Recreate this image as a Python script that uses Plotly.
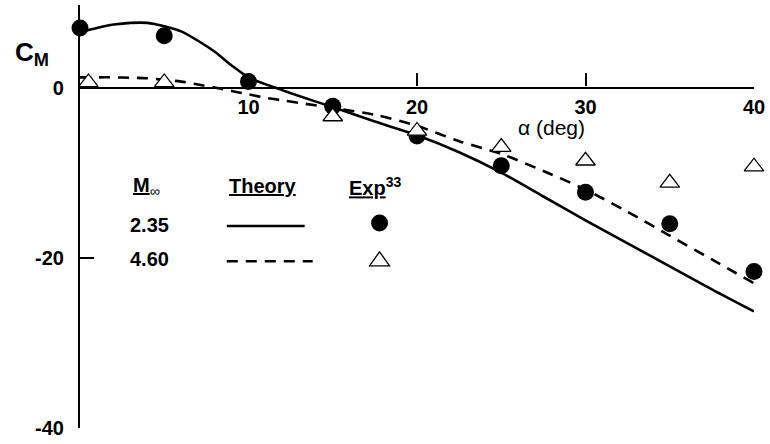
import plotly.graph_objects as go

# ---------------- data ----------------
alpha_exp_235 = [0, 5, 10, 15, 20, 25, 30, 35, 40]
cm_exp_235 = [7.0, 6.1, 0.7, -2.2, -5.7, -9.2, -12.3, -16.0, -21.6]

alpha_exp_460 = [0.5, 5, 15, 20, 25, 30, 35, 40]
cm_exp_460 = [0.6, 0.6, -3.4, -5.1, -7.0, -8.6, -11.2, -9.3]

alpha_th_235 = [0, 1, 2, 3, 4, 5, 6, 7, 8, 9, 10, 11, 12, 13, 15, 17.5, 20,
                22.5, 25, 27.5, 30, 32.5, 35, 37.5, 40]
cm_th_235 = [6.5, 7.0, 7.4, 7.6, 7.6, 7.2, 6.6, 5.5, 4.2, 2.6, 1.2, 0.4, -0.3,
             -1.0, -2.3, -4.0, -5.6, -7.6, -10.0, -12.8, -15.6, -18.3, -21.0,
             -23.7, -26.3]

alpha_th_460 = [0, 1, 2, 3, 4, 5, 6, 7, 8, 9, 10, 11, 12, 13, 15, 17.5, 20,
                22.5, 25, 27.5, 30, 32.5, 35, 37.5, 40]
cm_th_460 = [1.2, 1.2, 1.2, 1.15, 1.1, 0.9, 0.7, 0.35, 0.0, -0.4, -0.8, -1.2,
             -1.5, -1.8, -2.4, -3.2, -4.5, -6.3, -7.8, -9.8, -12.0, -14.6,
             -17.4, -20.2, -23.0]

x_ticks = [10, 20, 30, 40]
y_ticks = [-40, -20, 0]
y_tick_text = ["-40", "-20", "0"]
x_range = [0, 40]
y_range = [-40, 9.7]

mach_labels = ["2.35", "4.60"]

FONT = "Liberation Sans, Arial, Helvetica, sans-serif"

fig = go.Figure()

fig.add_trace(go.Scatter(x=alpha_th_235, y=cm_th_235, mode="lines",
                         line=dict(color="black", width=2.6, shape="spline", smoothing=0.8),
                         cliponaxis=False, showlegend=False))
fig.add_trace(go.Scatter(x=alpha_th_460, y=cm_th_460, mode="lines",
                         line=dict(color="black", width=2.6, dash="11px,8px",
                                   shape="spline", smoothing=0.8),
                         cliponaxis=False, showlegend=False))
fig.add_trace(go.Scatter(x=alpha_exp_235, y=cm_exp_235, mode="markers",
                         marker=dict(symbol="circle", size=17, color="black"),
                         cliponaxis=False, showlegend=False))
fig.add_trace(go.Scatter(x=alpha_exp_460, y=cm_exp_460, mode="markers",
                         marker=dict(symbol="triangle-up", size=17, color="white",
                                     line=dict(color="black", width=1.3)),
                         cliponaxis=False, showlegend=False))

xpos = (0 - y_range[0]) / (y_range[1] - y_range[0])

fig.update_layout(
    width=770, height=444,
    margin=dict(l=80, r=15, t=5, b=14),
    plot_bgcolor="white", paper_bgcolor="white",
    font=dict(family=FONT, size=20, color="black"),
    xaxis=dict(range=x_range, anchor="free", position=xpos,
               showline=True, linecolor="black", linewidth=2.2,
               ticks="inside", ticklen=13, tickwidth=2.2, tickcolor="black",
               tickvals=x_ticks, showgrid=False, zeroline=False,
               ticklabelstandoff=1,
               tickfont=dict(family=FONT, size=20, weight="bold")),
    yaxis=dict(range=y_range, showline=True, linecolor="black", linewidth=2.2,
               ticks="inside", ticklen=14, tickwidth=2.2, tickcolor="black",
               tickvals=y_ticks, ticktext=y_tick_text, showgrid=False,
               zeroline=False, ticklabelstandoff=10,
               tickfont=dict(family=FONT, size=20, weight="bold")),
)

# axis titles
fig.add_annotation(x=-0.1, y=0.885, xref="paper", yref="paper", xanchor="left",
                   yanchor="middle", showarrow=False,
                   text="<b>C<sub>M</sub></b>", font=dict(size=26))
fig.add_annotation(x=0.700, y=0.7106, xref="paper", yref="paper", xanchor="center",
                   yanchor="middle", showarrow=False,
                   text="α (deg)", font=dict(size=21))

# legend table
def px2paper(px, py):
    return (px - 80) / 675, (430 - py) / 425

hdr_y = px2paper(0, 187)[1]
for cx, txt in [(147, "<b><u>M</u></b><sub>∞</sub>"), (263, "<b><u>Theory</u></b>"),
                (375, "<b><u>Exp</u><sup>33</sup></b>")]:
    fig.add_annotation(x=px2paper(cx, 0)[0], y=hdr_y, xref="paper", yref="paper",
                       xanchor="center", yanchor="middle", showarrow=False,
                       text=txt, font=dict(size=20))

row_y = [226.5, 260.5]
for lab, ry in zip(mach_labels, row_y):
    fig.add_annotation(x=px2paper(149.5, 0)[0], y=px2paper(0, ry)[1], xref="paper",
                       yref="paper", xanchor="center", yanchor="middle",
                       showarrow=False, text="<b>" + lab + "</b>", font=dict(size=20))

# legend samples
x0, y1 = px2paper(227, 227)
x1, _ = px2paper(305, 227)
fig.add_shape(type="line", xref="paper", yref="paper", x0=x0, x1=x1, y0=y1, y1=y1,
              line=dict(color="black", width=2.6))
x1d, y2 = px2paper(313, 262.5)
fig.add_shape(type="line", xref="paper", yref="paper", x0=x0, x1=x1d, y0=y2, y1=y2,
              line=dict(color="black", width=2.6, dash="11px,8px"))
cxm, cym = px2paper(380, 224)
fig.add_shape(type="circle", xref="paper", yref="paper", xsizemode="pixel",
              ysizemode="pixel", xanchor=cxm, yanchor=cym, x0=-8.5, x1=8.5,
              y0=-8.5, y1=8.5, fillcolor="black", line=dict(color="black", width=0))
txm, tym = px2paper(380, 261)
fig.add_shape(type="path", xref="paper", yref="paper", xsizemode="pixel",
              ysizemode="pixel", xanchor=txm, yanchor=tym,
              path="M-10,-6 L10,-6 L0,8 Z", fillcolor="white",
              line=dict(color="black", width=1.3))

fig.write_html("out.html")
